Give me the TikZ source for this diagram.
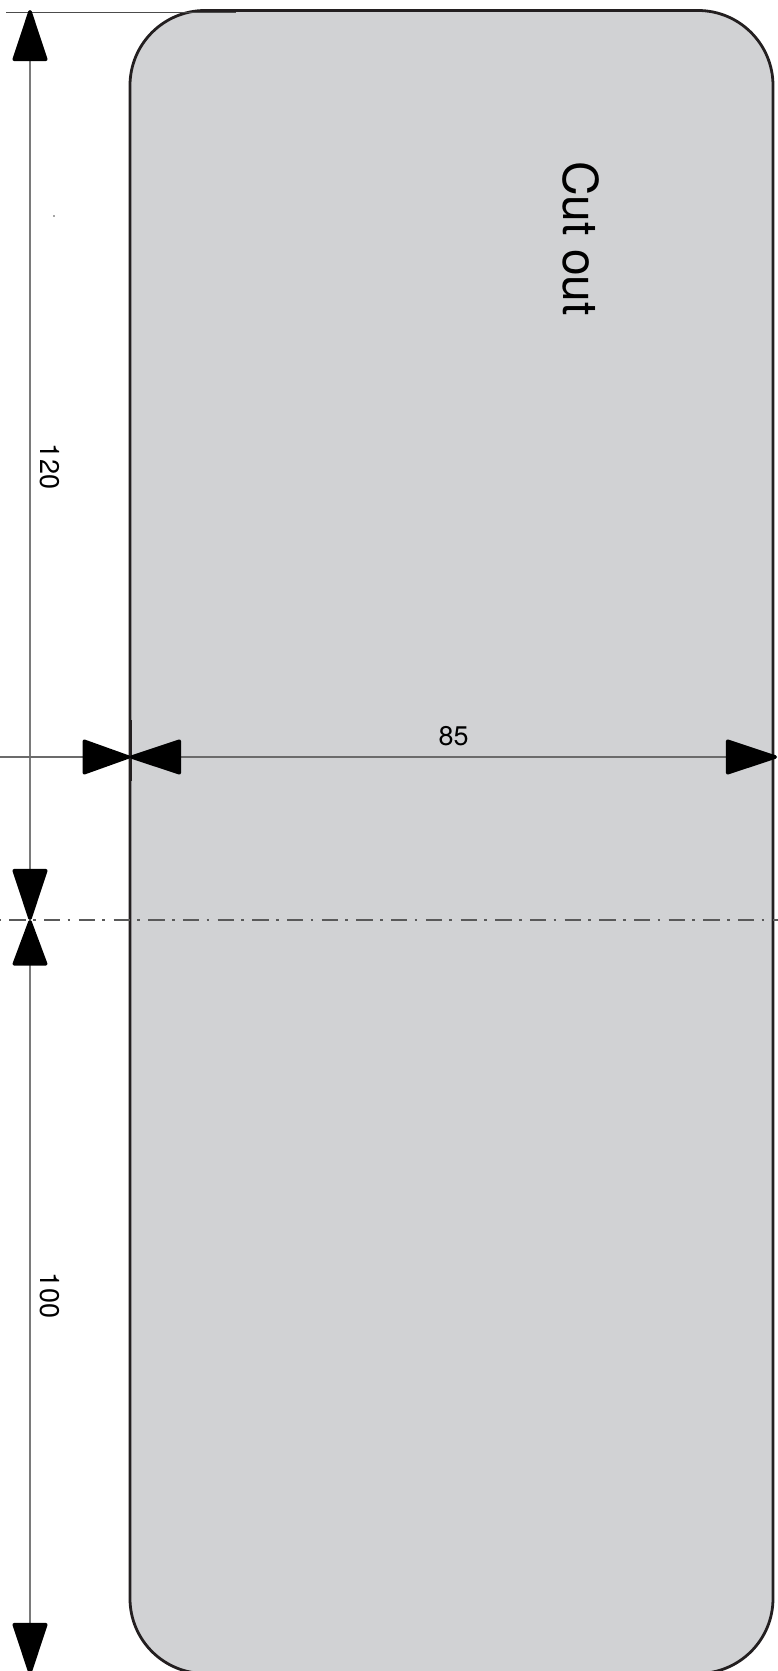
\documentclass[tikz,border=0pt]{standalone}
\usepackage{fontspec}
\setmainfont{TeX Gyre Heros}
\usetikzlibrary{arrows.meta}
\definecolor{panel}{HTML}{D1D2D4}
\definecolor{edge}{HTML}{231F20}
\tikzset{
  x=1pt,y=-1pt,
  panelbox/.style={fill=panel,draw=edge,line width=2.8pt,rounded corners=75pt},
  headtip/.tip={Triangle[length=55pt,width=35.5pt,round,color=black,line width=3.5pt]},
  shorthead/.tip={Triangle[length=51pt,width=35.5pt,round,color=black,line width=3.5pt]},
  shortesthead/.tip={Triangle[length=49pt,width=35.5pt,round,color=black,line width=3.5pt]},
  dimv/.style={draw=black!52,line width=1.9pt},
  dimh/.style={draw=black!58,line width=1.6pt},
  extline/.style={draw=black!70,line width=1.4pt},
  tickline/.style={draw=edge,line width=1.4pt},
  axisline/.style={draw=black!65,line width=1.4pt,dash pattern=on 16.3pt off 7.3pt on 2.7pt off 8.4pt,dash phase=24.3pt},
  dimlabel/.style={font=\fontsize{27}{27}\selectfont,inner sep=0pt,text=black},
  titlelabel/.style={font=\fontsize{48}{48}\selectfont,inner sep=0pt,text=black},
  speck/.style={fill=black!35,inner sep=0pt,minimum size=1.6pt,draw=none}
}
\begin{document}
\begin{tikzpicture}
\useasboundingbox (0,0) rectangle (778,1671);
\begin{scope}
\clip (0,0) rectangle (778,1671);
\fill[white] (0,0) rectangle (778,1671);
\node[panelbox,minimum width=643pt,minimum height=1663pt,anchor=north west,inner sep=0pt,outer sep=0pt] (panel) at (130,10.5) {};
\coordinate (topL) at (6,12.5);
\coordinate (topR) at (236,12.5);
\coordinate (topTip) at (30,10);
\coordinate (axisV) at (30,920);
\coordinate (botTip) at (30,1674);
\coordinate (farL) at (0,757);
\coordinate (dimL) at (130,757);
\coordinate (dimR) at (777,757);
\coordinate (tickA) at (131,720);
\coordinate (tickB) at (131,781);
\coordinate (axisA) at (-1,920);
\coordinate (axisB) at (778,920);
\draw[extline] (topL) -- (topR);
\draw[tickline] (tickA) -- (tickB);
\draw[axisline] (axisA) -- (axisB);
\draw[dimv,{headtip}-{headtip}] (axisV) -- (topTip);
\draw[dimv,{shortesthead}-{headtip}] (axisV) -- (botTip);
\draw[dimh,-{shorthead}] (farL) -- (dimL);
\draw[dimh,{headtip}-{headtip}] (dimL) -- (dimR);
\node[dimlabel,rotate=-90] (l120) at (50,466.5) {120};
\node[dimlabel,rotate=-90] (l100) at (50,1295.5) {100};
\node[dimlabel] (l85) at (453.6,736) {85};
\node[titlelabel,rotate=-90] (cut) at (581,238.5) {Cut out};
\node[speck] (dot) at (54,216) {};
\end{scope}
\end{tikzpicture}
\end{document}
